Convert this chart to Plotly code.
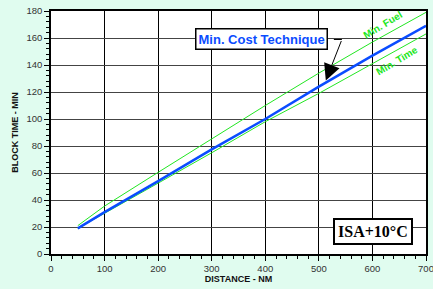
import plotly.graph_objects as go

distance = [50, 100, 200, 300, 400, 500, 600, 700]
min_cost = [19, 31, 54, 77.5, 100, 124, 147, 169]
min_fuel = [21, 35.5, 60.5, 85.5, 110, 134, 157, 179]
min_time = [19, 30, 52.5, 75, 98, 119, 141, 163]

x_ticks = [0, 100, 200, 300, 400, 500, 600, 700]
y_ticks = [0, 20, 40, 60, 80, 100, 120, 140, 160, 180]

GREEN = "#22e622"
BLUE = "#0a4cff"

fig = go.Figure()
fig.add_trace(go.Scatter(x=distance, y=min_fuel, mode="lines",
                         line=dict(color=GREEN, width=1), name="Min. Fuel"))
fig.add_trace(go.Scatter(x=distance, y=min_time, mode="lines",
                         line=dict(color=GREEN, width=1), name="Min. Time"))
fig.add_trace(go.Scatter(x=distance, y=min_cost, mode="lines",
                         line=dict(color=BLUE, width=2.5), name="Min. Cost Technique"))

axis_common = dict(showline=True, linecolor="black", linewidth=1.5, mirror=True,
                   ticks="outside", ticklen=5, tickcolor="black", tickwidth=1,
                   zeroline=False, automargin=False, ticklabeloverflow="allow",
                   tickfont=dict(family="Liberation Sans", size=9.5, color="#333"))

fig.update_xaxes(range=[0, 700], tickvals=x_ticks, showgrid=True, gridcolor="black", gridwidth=1,
                 minor=dict(dtick=20, ticks="outside", ticklen=3, tickcolor="black", showgrid=False),
                 title=dict(text="<b>DISTANCE - NM</b>", font=dict(family="Liberation Sans", size=9, color="#111"), standoff=0),
                 **axis_common)
fig.update_yaxes(range=[0, 180], tickvals=y_ticks, showgrid=True, gridcolor="#444", gridwidth=1,
                 minor=dict(dtick=4, ticks="outside", ticklen=3, tickcolor="black", showgrid=False),
                 title=dict(text="<b>BLOCK TIME - MIN</b>", font=dict(family="Liberation Sans", size=9, color="#111"), standoff=6),
                 **axis_common)

fig.add_annotation(x=393, y=158.9, text="<b>Min. Cost Technique</b>", showarrow=False,
                   font=dict(family="Liberation Sans", size=13, color=BLUE),
                   bgcolor="white", bordercolor="black", borderwidth=1.5, borderpad=2)
fig.add_shape(type="line", x0=528, y0=158.9, x1=543, y1=158.9, line=dict(color="black", width=1))
fig.add_annotation(x=513, y=128.5, ax=543, ay=158.9, axref="x", ayref="y", text="",
                   showarrow=True, arrowhead=2, arrowsize=3.3, arrowwidth=1, arrowcolor="black")

fig.add_annotation(x=620, y=170, text="<b>Min. Fuel</b>", showarrow=False, textangle=-31,
                   font=dict(family="Liberation Sans", size=10, color=GREEN))
fig.add_annotation(x=646, y=143, text="<b>Min. Time</b>", showarrow=False, textangle=-31,
                   font=dict(family="Liberation Sans", size=10, color=GREEN))

fig.add_annotation(x=601, y=16.4, text="<b>ISA+10°C</b>", showarrow=False,
                   font=dict(family="Liberation Serif", size=16, color="black"),
                   bgcolor="white", bordercolor="black", borderwidth=2, borderpad=3)

fig.update_layout(width=433, height=289, margin=dict(l=51, r=7, t=11, b=35),
                  paper_bgcolor="#e0fcef", plot_bgcolor="white", showlegend=False)

fig.write_html("out.html", config={"displayModeBar": False},
               post_script="document.body.style.margin='0';document.body.style.overflow='hidden';")
